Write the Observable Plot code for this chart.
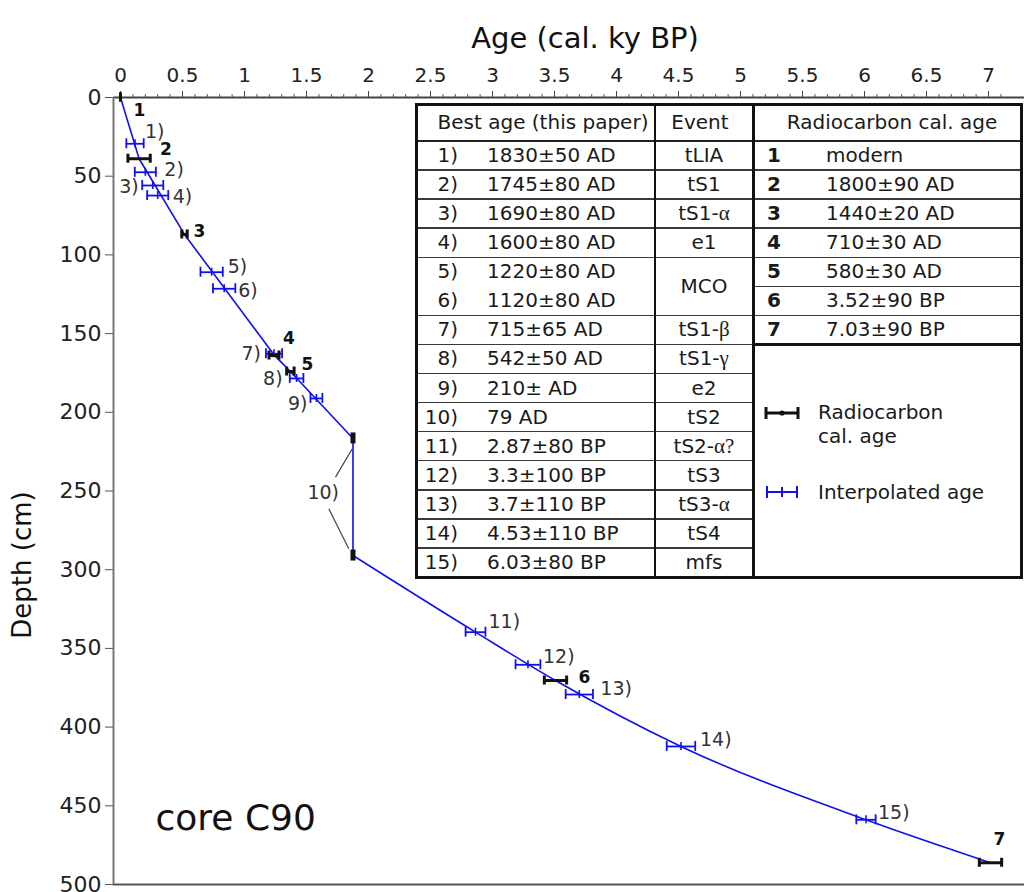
<!DOCTYPE html>
<html>
<head>
<meta charset="utf-8">
<script src="https://cdn.jsdelivr.net/npm/d3@7"></script>
<script src="https://cdn.jsdelivr.net/npm/@observablehq/plot@0.6"></script>
<style>
  body { margin: 0; background: #fff; font-family: "DejaVu Sans", sans-serif; }
  #wrap { position: relative; width: 1024px; height: 892px; overflow: hidden; background: #fff; }
  #wrap svg { position: absolute; left: 0; top: 0; }
  .tb { position: absolute; font-family: "DejaVu Sans", sans-serif; font-size: 20px; color: #1a1a1a; white-space: nowrap; }
  .ln { position: absolute; background: #333; }
  .gr { font-family: "Liberation Serif", "DejaVu Serif", serif; font-size: 21px; }
  .bold { font-weight: bold; }
  #ylab { position: absolute; left: 22px; top: 565px; font-size: 26px; line-height: 1; color: #111; white-space: nowrap;
          transform: translate(-50%, -50%) rotate(-90deg); font-family: "DejaVu Sans", sans-serif; }
</style>
</head>
<body>
<div id="wrap"></div>
<script>
// ---------------- DATA ----------------
// Radiocarbon calibrated ages (ky BP) and depths (cm)
const rcId    = ["1", "2", "3", "4", "5", "6", "7"];
const rcAge   = [0, 0.15, 0.516, 1.238, 1.37, 3.508, 7.016];
const rcDepth = [0, 38.9, 87.0, 163.9, 174.1, 370.4, 486.2];
const rcErr   = [0, 0.09, 0.022, 0.04, 0.03, 0.09, 0.09];

// Interpolated ages
const ipId    = ["1)", "2)", "3)", "4)", "5)", "6)", "7)", "8)", "9)", "11)", "12)", "13)", "14)", "15)"];
const ipAge   = [0.117, 0.20, 0.26, 0.30, 0.735, 0.836, 1.238, 1.42, 1.58, 2.863, 3.286, 3.70, 4.52, 6.012];
const ipDepth = [29.4, 47.5, 55.9, 62.3, 111.0, 121.5, 162.8, 178.5, 191.2, 339.7, 360.4, 379.3, 412.3, 458.9];
const ipErr   = [0.07, 0.085, 0.085, 0.085, 0.09, 0.09, 0.065, 0.055, 0.048, 0.08, 0.1, 0.11, 0.115, 0.078];

// Event 10) (79 AD tephra) : top and bottom of the instantaneous layer
const tephraAge   = 1.875;
const tephraDepth = [216.6, 291.0];

// Age-depth model line
const upperAge   = [0, 0.15, 0.516, 1.238, 1.37, 1.875, 1.875];
const upperDepth = [0, 38.9, 87.0, 163.5, 174.1, 216.6, 291.0];
const lowerAge   = [1.875, 2.863, 3.508, 4.52, 6.012, 7.016];
const lowerDepth = [291.0, 339.7, 370.4, 412.3, 458.9, 486.2];

// Leader lines of label 10) [age1, depth1, age2, depth2]
const leaderA1 = [1.869, 1.680];
const leaderD1 = [223.2, 261.3];
const leaderA2 = [1.734, 1.841];
const leaderD2 = [241.2, 286.7];

// Axis ticks
const xMajor = d3.range(0, 7.01, 0.5);
const xMinor = d3.range(0, 72).map(i => i / 10);
const yTicks = d3.range(0, 501, 50);

// Table contents
const bestNo  = ["1)", "2)", "3)", "4)", "5)", "6)", "7)", "8)", "9)", "10)", "11)", "12)", "13)", "14)", "15)"];
const bestAge = ["1830±50 AD", "1745±80 AD", "1690±80 AD", "1600±80 AD", "1220±80 AD", "1120±80 AD",
                 "715±65 AD", "542±50 AD", "210± AD", "79 AD", "2.87±80 BP", "3.3±100 BP",
                 "3.7±110 BP", "4.53±110 BP", "6.03±80 BP"];
const eventName = ["tLIA", "tS1", "tS1-α", "e1", "MCO", "tS1-β", "tS1-γ", "e2", "tS2", "tS2-α?", "tS3", "tS3-α", "tS4", "mfs"];
const eventRows = [1, 1, 1, 1, 2, 1, 1, 1, 1, 1, 1, 1, 1, 1];
const rcText = ["modern", "1800±90 AD", "1440±20 AD", "710±30 AD", "580±30 AD", "3.52±90 BP", "7.03±90 BP"];

// ---------------- CHART ----------------
const BLUE = "#1010ee";
const BLACK = "#111";
const rc = rcId.map((id, i) => ({id, age: rcAge[i], depth: rcDepth[i], err: rcErr[i]}));
const ip = ipId.map((id, i) => ({id, age: ipAge[i], depth: ipDepth[i], err: ipErr[i]}));
const teph = tephraDepth.map(d => ({age: tephraAge, depth: d}));
const upper = upperAge.map((a, i) => ({age: a, depth: upperDepth[i]}));
const lower = lowerAge.map((a, i) => ({age: a, depth: lowerDepth[i]}));
const leaders = leaderA1.map((a, i) => ({a1: a, d1: leaderD1[i], a2: leaderA2[i], d2: leaderD2[i]}));

const xDomain = [-7 / 124, (1024 - 120) / 124];

// label placements (pixel offsets from the point)
const place = {
  "1": [13, 13, "start"], "2": [21, -9, "start"], "3": [9, -3, "start"], "4": [9, -17, "start"],
  "5": [11, -7, "start"], "6": [23, -3, "start"], "7": [9, -23, "middle"],
  "1)": [10, -12, "start"], "2)": [19, -2, "start"], "3)": [-14, 1, "end"], "4)": [15, 1, "start"],
  "5)": [16, -5, "start"], "6)": [14, 2, "start"], "7)": [-13, 0, "end"], "8)": [-14, 0, "end"],
  "9)": [-9, 5, "end"], "11)": [13, -10, "start"], "12)": [15, -8, "start"], "13)": [21, -6, "start"],
  "14)": [19, -7, "start"], "15)": [12, -7, "start"]
};

const marks = [
  // axis lines
  Plot.ruleY([0], {stroke: "#444", strokeWidth: 2}),
  Plot.ruleY([500], {stroke: "#555", strokeWidth: 2}),
  Plot.ruleX([xDomain[0]], {stroke: "#777", strokeWidth: 2}),
  Plot.axisX({anchor: "top", ticks: xMinor, tickSize: 4, text: null, label: null, stroke: "#555"}),
  Plot.axisX({anchor: "top", ticks: xMajor, tickSize: 7, tickPadding: 9, tickFormat: d => String(d),
              label: null, stroke: "#444", fill: "#222", fontSize: 20}),
  Plot.axisY({ticks: yTicks, tickSize: 8, tickPadding: 4, label: null, stroke: "#555", fill: "#222", fontSize: 22}),
  // axis title (top)
  Plot.text(["Age (cal. ky BP)"], {frameAnchor: "top", dx: 16, dy: -70, fontSize: 29, fill: "#111"}),
  Plot.text(["core C90"], {frameAnchor: "bottom-left", dx: 42, dy: -55, textAnchor: "start", fontSize: 36, fill: "#111"}),
  // model line
  Plot.line(upper, {x: "age", y: "depth", stroke: BLUE, strokeWidth: 1.6}),
  Plot.line(lower, {x: "age", y: "depth", stroke: BLUE, strokeWidth: 1.6, curve: "monotone-x"}),
  // leader lines for 10)
  Plot.link(leaders, {x1: "a1", y1: "d1", x2: "a2", y2: "d2", stroke: "#444", strokeWidth: 1.2}),
  // interpolated error bars
  Plot.ruleY(ip, {y: "depth", x1: d => d.age - d.err, x2: d => d.age + d.err, stroke: BLUE, strokeWidth: 1.8}),
  Plot.ruleX(ip, {x: d => d.age - d.err, y1: "depth", y2: "depth", insetTop: -5, insetBottom: -5, stroke: BLUE, strokeWidth: 1.8}),
  Plot.ruleX(ip, {x: d => d.age + d.err, y1: "depth", y2: "depth", insetTop: -5, insetBottom: -5, stroke: BLUE, strokeWidth: 1.8}),
  Plot.ruleX(ip, {x: "age", y1: "depth", y2: "depth", insetTop: -4, insetBottom: -4, stroke: BLUE, strokeWidth: 1.6}),
  // radiocarbon error bars
  Plot.ruleY(rc, {y: "depth", x1: d => d.age - d.err, x2: d => d.age + d.err, stroke: BLACK, strokeWidth: 3}),
  Plot.ruleX(rc, {x: d => d.age - d.err, y1: "depth", y2: "depth", insetTop: -4.5, insetBottom: -4.5, stroke: BLACK, strokeWidth: 3}),
  Plot.ruleX(rc, {x: d => d.age + d.err, y1: "depth", y2: "depth", insetTop: -4.5, insetBottom: -4.5, stroke: BLACK, strokeWidth: 3}),
  // tephra marks
  Plot.ruleX(teph, {x: "age", y1: "depth", y2: "depth", insetTop: -5.5, insetBottom: -5.5, stroke: BLACK, strokeWidth: 5}),
  // label 10)
  Plot.text([{age: tephraAge, depth: d3.mean(tephraDepth)}], {x: "age", y: "depth", text: () => "10)",
    dx: -14, dy: -4, textAnchor: "end", fontSize: 19, fill: "#333"})
];

for (const d of ip) {
  const [dx, dy, anchor] = place[d.id];
  marks.push(Plot.text([d], {x: "age", y: "depth", text: "id", dx, dy, textAnchor: anchor, fontSize: 19, fill: "#333"}));
}
for (const d of rc) {
  const [dx, dy, anchor] = place[d.id];
  marks.push(Plot.text([d], {x: "age", y: "depth", text: "id", dx, dy, textAnchor: anchor, fontSize: 17, fontWeight: "bold", fill: BLACK}));
}

const chart = Plot.plot({
  width: 1024,
  height: 892,
  marginTop: 97,
  marginBottom: 8,
  marginLeft: 113,
  marginRight: 0,
  style: {fontFamily: "DejaVu Sans", background: "#fff", overflow: "visible"},
  x: {domain: xDomain, axis: null},
  y: {domain: [0, 500], reverse: true, axis: null},
  marks
});
const wrap = document.getElementById("wrap");
wrap.appendChild(chart);

// y-axis title
const ylab = document.createElement("div");
ylab.id = "ylab";
ylab.textContent = "Depth (cm)";
wrap.appendChild(ylab);

// ---------------- TABLE (HTML overlay) ----------------
const T_LEFT = 416, T_TOP = 104, T_RIGHT = 1021, T_BOTTOM = 577, HEAD = 141, C1 = 655, C2 = 753;
const RH = (T_BOTTOM - HEAD) / 15;
function el(cls, css, html) {
  const e = document.createElement("div");
  e.className = cls;
  Object.assign(e.style, css);
  if (html != null) e.innerHTML = html;
  wrap.appendChild(e);
  return e;
}
function px(v) { return v + "px"; }
function greek(s) { return s.replace(/([αβγ?])/g, '<span class="gr">$1</span>'); }

// white background of table
el("ln", {left: px(T_LEFT), top: px(T_TOP), width: px(T_RIGHT - T_LEFT), height: px(T_BOTTOM - T_TOP), background: "#fff"});
// row lines
const evBounds = new Set();
let acc = 0;
eventRows.forEach(n => { acc += n; evBounds.add(acc); });
for (let k = 1; k < 15; k++) {
  if (evBounds.has(k)) {
    el("ln", {left: px(T_LEFT), top: px(HEAD + k * RH - 0.75), width: px(C2 - T_LEFT), height: "1.5px", background: "#3a3a3a"});
  }
}
for (let k = 1; k <= rcText.length; k++) {
  const thick = k === rcText.length;
  el("ln", {left: px(C2), top: px(HEAD + k * RH - (thick ? 1.5 : 0.75)), width: px(T_RIGHT - C2), height: thick ? "3px" : "1.5px", background: thick ? "#111" : "#3a3a3a"});
}
// header line
el("ln", {left: px(T_LEFT), top: px(HEAD - 1), width: px(T_RIGHT - T_LEFT), height: "2px", background: "#222"});
// column lines
el("ln", {left: px(C1 - 1), top: px(T_TOP), width: "2px", height: px(T_BOTTOM - T_TOP), background: "#111"});
el("ln", {left: px(C2 - 1.5), top: px(T_TOP), width: "3px", height: px(T_BOTTOM - T_TOP), background: "#111"});
// outer border
el("ln", {left: px(T_LEFT - 1.5), top: px(T_TOP - 1.5), width: px(T_RIGHT - T_LEFT + 3), height: px(T_BOTTOM - T_TOP + 3),
          background: "transparent", border: "3px solid #111", boxSizing: "border-box"});

// header text
const hh = HEAD - T_TOP;
el("tb", {left: px(T_LEFT), top: px(T_TOP), width: px(254), height: px(hh), lineHeight: px(hh), textAlign: "center"}, "Best age (this paper)");
el("tb", {left: px(C1), top: px(T_TOP), width: px(90), height: px(hh), lineHeight: px(hh), textAlign: "center"}, "Event");
el("tb", {left: px(C2), top: px(T_TOP), width: px(278), height: px(hh), lineHeight: px(hh), textAlign: "center"}, "Radiocarbon cal. age");

// column 1
bestNo.forEach((n, i) => {
  const top = HEAD + i * RH;
  el("tb", {left: px(T_LEFT), top: px(top), width: px(42), height: px(RH), lineHeight: px(RH), textAlign: "right"}, n);
  el("tb", {left: px(487), top: px(top), height: px(RH), lineHeight: px(RH)}, bestAge[i]);
});
// column 2
let row = 0;
eventName.forEach((ev, i) => {
  const h = eventRows[i] * RH;
  el("tb", {left: px(C1), top: px(HEAD + row * RH), width: px(C2 - C1), height: px(h), lineHeight: px(h), textAlign: "center"}, greek(ev));
  row += eventRows[i];
});
// column 3
rcText.forEach((t, i) => {
  const top = HEAD + i * RH;
  el("tb bold", {left: px(767), top: px(top), height: px(RH), lineHeight: px(RH)}, rcId[i]);
  el("tb", {left: px(826), top: px(top), height: px(RH), lineHeight: px(RH)}, t);
});

// legend inside the table
const legBlack = '<svg width="36" height="14" style="display:block"><line x1="2" y1="7" x2="34" y2="7" stroke="#111" stroke-width="3"/>' +
  '<line x1="2" y1="1" x2="2" y2="13" stroke="#111" stroke-width="3"/><line x1="34" y1="1" x2="34" y2="13" stroke="#111" stroke-width="3"/>' +
  '<circle cx="18" cy="7" r="2.6" fill="#111"/></svg>';
const legBlue = '<svg width="34" height="14" style="display:block"><line x1="2" y1="7" x2="32" y2="7" stroke="' + BLUE + '" stroke-width="2"/>' +
  '<line x1="2" y1="1" x2="2" y2="13" stroke="' + BLUE + '" stroke-width="2"/><line x1="32" y1="1" x2="32" y2="13" stroke="' + BLUE + '" stroke-width="2"/>' +
  '<line x1="17" y1="2" x2="17" y2="12" stroke="' + BLUE + '" stroke-width="2"/></svg>';
el("tb", {left: px(764), top: px(406)}, legBlack);
el("tb", {left: px(765), top: px(485)}, legBlue);
el("tb", {left: px(818), top: px(400), lineHeight: "24px"}, "Radiocarbon<br>cal. age");
el("tb", {left: px(818), top: px(480), lineHeight: "24px"}, "Interpolated age");
</script>
</body>
</html>
